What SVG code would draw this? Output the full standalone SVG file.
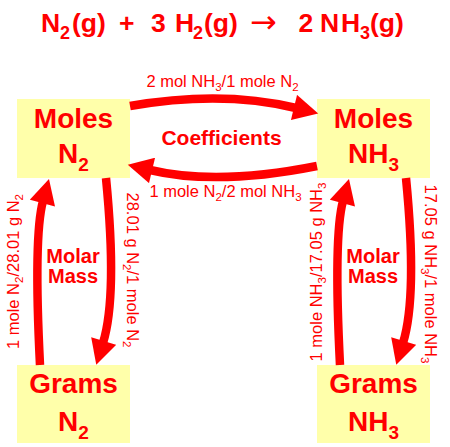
<svg xmlns="http://www.w3.org/2000/svg" width="450" height="447" viewBox="0 0 450 447">
  <defs>
    <style>
      .t { font-family: "Liberation Sans", Arial, Helvetica, sans-serif; fill: #FF0000; }
      .b { font-weight: bold; }
      .s { font-size: 16.5px; }
      .sub { font-size: 11.5px; }
      .box { fill: #FFFFAA; }
      .arr { fill: none; stroke: #FF0000; stroke-width: 8.5; }
    </style>
    <marker id="ah" markerUnits="userSpaceOnUse" markerWidth="26" markerHeight="26" refX="2" refY="12.5" orient="auto" viewBox="0 0 24 25">
      <path d="M0,0 L24,12.5 L0,25 z" fill="#FF0000"/>
    </marker>
  </defs>
  <rect width="450" height="447" fill="#FFFFFF"/>

  <g id="title">
    <text class="t b" y="32" font-size="26.5">
      <tspan x="41">N</tspan><tspan x="60" dy="7" font-size="18">2</tspan><tspan x="72" dy="-7">(g)</tspan>
      <tspan x="119">+</tspan>
      <tspan x="151">3</tspan><tspan x="175">H</tspan><tspan x="193" dy="7" font-size="18">2</tspan><tspan x="204" dy="-7">(g)</tspan>
      <tspan x="298.5">2</tspan><tspan x="320">N</tspan><tspan x="341">H</tspan><tspan x="360" dy="7" font-size="18">3</tspan><tspan x="370" dy="-7">(g)</tspan>
    </text>
    <text x="250" y="33" font-family="DejaVu Sans, sans-serif" font-size="32" fill="#FF0000">→</text>
  </g>

  <g id="moles-n2">
    <rect class="box" x="17" y="99" width="113" height="79"/>
    <text class="t b" x="73.5" y="128" font-size="28" text-anchor="middle">Moles</text>
    <text class="t b" x="73.5" y="163" font-size="28" text-anchor="middle">N<tspan dy="8" font-size="19">2</tspan></text>
  </g>
  <g id="moles-nh3">
    <rect class="box" x="317" y="99" width="113" height="79"/>
    <text class="t b" x="373.5" y="128" font-size="28" text-anchor="middle">Moles</text>
    <text class="t b" x="373.5" y="163" font-size="28" text-anchor="middle">NH<tspan dy="8" font-size="19">3</tspan></text>
  </g>
  <g id="grams-n2">
    <rect class="box" x="17" y="365" width="113" height="78"/>
    <text class="t b" x="73.5" y="393" font-size="28" text-anchor="middle">Grams</text>
    <text class="t b" x="73.5" y="431" font-size="28" text-anchor="middle">N<tspan dy="8" font-size="19">2</tspan></text>
  </g>
  <g id="grams-nh3">
    <rect class="box" x="317" y="365" width="113" height="78"/>
    <text class="t b" x="373.5" y="393" font-size="28" text-anchor="middle">Grams</text>
    <text class="t b" x="373.5" y="431" font-size="28" text-anchor="middle">NH<tspan dy="8" font-size="19">3</tspan></text>
  </g>

  <g id="connectors">
    <path class="arr" d="M130,106 Q222,90 296,108" marker-end="url(#ah)"/>
    <path class="arr" d="M317,166 Q217,186 150,170" marker-end="url(#ah)"/>
    <path class="arr" d="M40,365 Q33.5,236 43,201" marker-end="url(#ah)"/>
    <path class="arr" d="M106,178 Q117.5,296 103,343" marker-end="url(#ah)"/>
    <path class="arr" d="M340,365 Q333.5,236 343,201" marker-end="url(#ah)"/>
    <path class="arr" d="M406,178 Q417.5,296 403,343" marker-end="url(#ah)"/>
  </g>

  <g id="labels">
    <text class="t s" x="222.5" y="87" text-anchor="middle">2 mol NH<tspan class="sub" dy="4">3</tspan><tspan dy="-4">/1 mole N</tspan><tspan class="sub" dy="4">2</tspan></text>
    <text class="t b" x="221.5" y="145" font-size="21" text-anchor="middle">Coefficients</text>
    <text class="t s" x="225.5" y="197" text-anchor="middle">1 mole N<tspan class="sub" dy="4">2</tspan><tspan dy="-4">/2 mol NH</tspan><tspan class="sub" dy="4">3</tspan></text>

    <text class="t b" x="73" y="263" font-size="20" text-anchor="middle">Molar</text>
    <text class="t b" x="73" y="283" font-size="20" text-anchor="middle">Mass</text>
    <text class="t b" x="373" y="263" font-size="20" text-anchor="middle">Molar</text>
    <text class="t b" x="373" y="283" font-size="20" text-anchor="middle">Mass</text>

    <text class="t s" transform="translate(19,271.5) rotate(-90)" text-anchor="middle">1 mole N<tspan class="sub" dy="4">2</tspan><tspan dy="-4">/28.01 g N</tspan><tspan class="sub" dy="4">2</tspan></text>
    <text class="t s" transform="translate(127,270) rotate(90)" text-anchor="middle">28.01 g N<tspan class="sub" dy="4">2</tspan><tspan dy="-4">/1 mole N</tspan><tspan class="sub" dy="4">2</tspan></text>
    <text class="t s" transform="translate(322,272) rotate(-90)" text-anchor="middle">1 mole NH<tspan class="sub" dy="4">3</tspan><tspan dy="-4">/17.05 g NH</tspan><tspan class="sub" dy="4">3</tspan></text>
    <text class="t s" transform="translate(425,274) rotate(90)" text-anchor="middle">17.05 g NH<tspan class="sub" dy="4">3</tspan><tspan dy="-4">/1 mole NH</tspan><tspan class="sub" dy="4">3</tspan></text>
  </g>
</svg>
